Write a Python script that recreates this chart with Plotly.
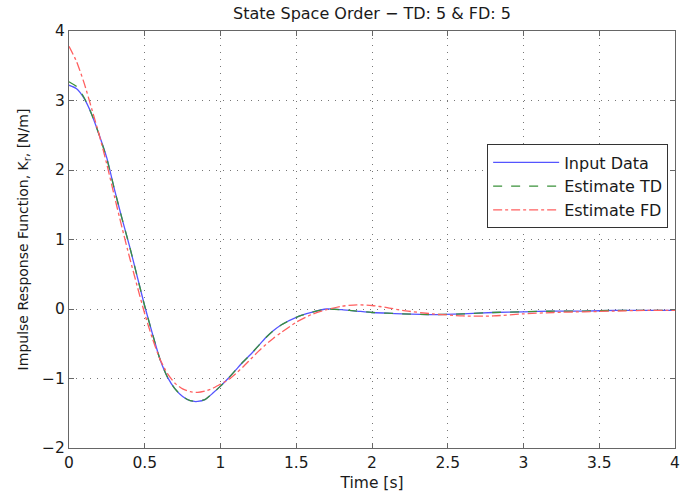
import plotly.graph_objects as go

t = [0, 0.05, 0.1, 0.15, 0.2, 0.25, 0.3, 0.35, 0.4, 0.45, 0.5, 0.55, 0.6, 0.65, 0.7, 0.75,
     0.8, 0.85, 0.9, 0.95, 1.0, 1.05, 1.1, 1.15, 1.2, 1.25, 1.3, 1.35, 1.4, 1.5, 1.6, 1.7,
     1.8, 1.9, 2.0, 2.1, 2.2, 2.4, 2.6, 2.8, 3.0, 3.2, 3.4, 3.6, 3.8, 4.0]

input_data = [3.22, 3.17, 3.03, 2.80, 2.50, 2.17, 1.72, 1.30, 0.90, 0.47, 0.04, -0.35, -0.72, -0.98, -1.15, -1.26,
              -1.32, -1.33, -1.30, -1.21, -1.11, -1.00, -0.88, -0.76, -0.65, -0.53, -0.41, -0.31, -0.23, -0.12, -0.05, 0.0,
              -0.01, -0.03, -0.05, -0.06, -0.07, -0.08, -0.07, -0.05, -0.04, -0.03, -0.03, -0.02, -0.02, -0.02]

estimate_td = [3.27, 3.20, 3.04, 2.80, 2.50, 2.16, 1.72, 1.30, 0.90, 0.47, 0.04, -0.35, -0.72, -0.98, -1.15, -1.26,
               -1.32, -1.33, -1.30, -1.21, -1.11, -1.00, -0.88, -0.76, -0.65, -0.53, -0.41, -0.31, -0.23, -0.12, -0.05, 0.0,
               -0.01, -0.03, -0.05, -0.06, -0.07, -0.08, -0.07, -0.05, -0.04, -0.03, -0.03, -0.02, -0.02, -0.02]

estimate_fd = [3.78, 3.56, 3.25, 2.88, 2.50, 2.08, 1.62, 1.17, 0.74, 0.33, -0.07, -0.42, -0.72, -0.93, -1.07, -1.15,
               -1.19, -1.20, -1.18, -1.14, -1.08, -1.02, -0.93, -0.83, -0.72, -0.61, -0.51, -0.42, -0.34, -0.19, -0.08, -0.01,
               0.04, 0.06, 0.05, 0.02, -0.02, -0.07, -0.10, -0.10, -0.07, -0.05, -0.04, -0.03, -0.02, -0.02]

x_ticks = [0, 0.5, 1, 1.5, 2, 2.5, 3, 3.5, 4]
y_ticks = [-2, -1, 0, 1, 2, 3, 4]

FONT = "DejaVu Sans, Verdana, sans-serif"

fig = go.Figure()
fig.add_trace(go.Scatter(x=t, y=input_data, mode="lines", name="Input Data",
                         line=dict(color="#5555ff", width=1.3, shape="spline", smoothing=0.6)))
fig.add_trace(go.Scatter(x=t, y=estimate_td, mode="lines", name="Estimate TD",
                         line=dict(color="#3a913a", width=1.3, dash="dash", shape="spline", smoothing=0.6)))
fig.add_trace(go.Scatter(x=t, y=estimate_fd, mode="lines", name="Estimate FD",
                         line=dict(color="#ff6060", width=1.3, dash="dashdot", shape="spline", smoothing=0.6)))

axis_common = dict(
    showline=True, linecolor="#666666", linewidth=1, mirror="allticks",
    ticks="inside", ticklen=5, tickcolor="#666666",
    showgrid=True, gridcolor="#777777", griddash="1px,6px", gridwidth=1,
    zeroline=False, tickfont=dict(family=FONT, size=15.5, color="#1a1a1a"),
    ticklabeloverflow="allow",
)

fig.update_xaxes(range=[0, 4], tickvals=x_ticks, ticktext=[str(v) for v in x_ticks],
                 title=dict(text="Time [s]", font=dict(family=FONT, size=15.5, color="#1a1a1a"), standoff=6),
                 **axis_common)
fig.update_yaxes(range=[-2, 4], tickvals=y_ticks,
                 title=dict(text="Impulse Response Function, K<sub>r</sub>, [N/m]",
                            font=dict(family=FONT, size=14, color="#1a1a1a"), standoff=10),
                 **axis_common)

fig.update_layout(
    width=683, height=495,
    margin=dict(l=69, r=3, t=31, b=47),
    paper_bgcolor="white", plot_bgcolor="white",
    title=dict(text="State Space Order − TD: 5 & FD: 5", x=0.5, xref="paper", xanchor="center",
               y=0.985, yanchor="top", font=dict(family=FONT, size=16, color="#1a1a1a")),
    legend=dict(x=0.69, y=0.728, xanchor="left", yanchor="top",
                bgcolor="white", bordercolor="#333333", borderwidth=1,
                font=dict(family=FONT, size=16, color="#1a1a1a"),
                tracegroupgap=0, itemwidth=66),
    showlegend=True,
)

fig.write_html("out.html")
